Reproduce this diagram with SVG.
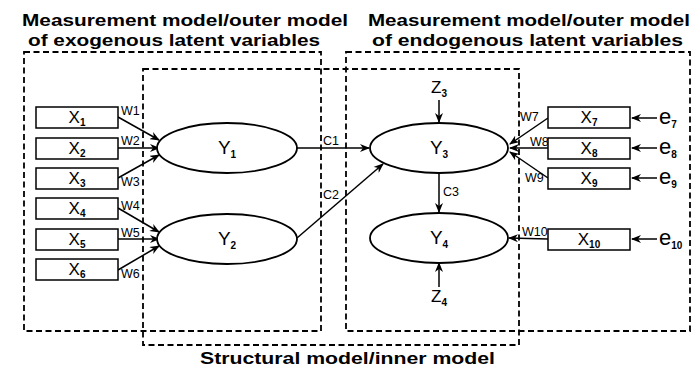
<svg xmlns="http://www.w3.org/2000/svg" width="694" height="367" viewBox="0 0 694 367">
<defs>
<style>
.title{font-family:"Liberation Sans",Arial,sans-serif;font-weight:bold;font-size:17px;fill:#000}
.box{fill:none;stroke:#000;stroke-width:1.8;stroke-dasharray:6,3.5}
.node rect{fill:#fff;stroke:#000;stroke-width:1.5}
.node ellipse{fill:#fff;stroke:#000;stroke-width:1.8}
.lbl{font-family:"Liberation Sans",Arial,sans-serif;font-size:17px;fill:#000}
.ylbl{font-family:"Liberation Sans",Arial,sans-serif;font-size:19px;fill:#000}
.sub{font-size:10px;font-weight:bold}
.w{font-family:"Liberation Sans",Arial,sans-serif;font-size:12.5px;fill:#000}
.e{font-family:"Liberation Sans",Arial,sans-serif;font-size:22px;fill:#000}
.conn line{stroke:#000;stroke-width:1.5;marker-end:url(#ah)}
</style>
<marker id="ah" markerUnits="userSpaceOnUse" markerWidth="10" markerHeight="8" refX="9" refY="4" orient="auto">
<path d="M0,0 L10,4 L0,8 L3,4 z" fill="#000"/>
</marker>
</defs>
<rect width="694" height="367" fill="#fff"/>

<g id="titles">
<text class="title" x="22" y="26" textLength="326" lengthAdjust="spacingAndGlyphs">Measurement model/outer model</text>
<text class="title" x="28" y="46" textLength="292" lengthAdjust="spacingAndGlyphs">of exogenous latent variables</text>
<text class="title" x="368" y="26" textLength="322" lengthAdjust="spacingAndGlyphs">Measurement model/outer model</text>
<text class="title" x="372" y="46" textLength="311" lengthAdjust="spacingAndGlyphs">of endogenous latent variables</text>
<text class="title" x="200" y="364" textLength="295" lengthAdjust="spacingAndGlyphs">Structural model/inner model</text>
</g>

<g id="regions">
<rect class="box" x="24" y="52" width="297" height="279"/>
<rect class="box" x="346" y="52" width="344" height="279"/>
<rect class="box" x="143" y="69" width="376" height="276"/>
</g>

<g id="connectors" class="conn">
<line x1="118" y1="117" x2="159" y2="140"/>
<line x1="118" y1="148" x2="159" y2="148"/>
<line x1="118" y1="178" x2="159" y2="155"/>
<line x1="118" y1="208" x2="159" y2="232"/>
<line x1="118" y1="239" x2="159" y2="239"/>
<line x1="118" y1="270" x2="159" y2="246"/>
<line x1="297" y1="148" x2="369" y2="148"/>
<line x1="297" y1="238" x2="383" y2="164"/>
<line x1="439" y1="173" x2="439" y2="212"/>
<line x1="439" y1="100" x2="439" y2="122"/>
<line x1="439" y1="287" x2="439" y2="263"/>
<line x1="548" y1="118" x2="510" y2="144"/>
<line x1="548" y1="148" x2="510" y2="148"/>
<line x1="548" y1="178" x2="510" y2="152"/>
<line x1="548" y1="239" x2="509" y2="238"/>
<line x1="657" y1="118" x2="632" y2="118"/>
<line x1="657" y1="148" x2="632" y2="148"/>
<line x1="657" y1="178" x2="632" y2="178"/>
<line x1="657" y1="239" x2="632" y2="239"/>
</g>

<g id="connector-labels">
<text class="w" x="121" y="115">W1</text>
<text class="w" x="121" y="145">W2</text>
<text class="w" x="121" y="186">W3</text>
<text class="w" x="121" y="210">W4</text>
<text class="w" x="121" y="237">W5</text>
<text class="w" x="121" y="278">W6</text>
<text class="w" x="520" y="121">W7</text>
<text class="w" x="530" y="146">W8</text>
<text class="w" x="525" y="182">W9</text>
<text class="w" x="522" y="236">W10</text>
<text class="w" x="323" y="145">C1</text>
<text class="w" x="323" y="199">C2</text>
<text class="w" x="443" y="196">C3</text>
</g>

<g id="X1" class="node"><rect x="36" y="107" width="82" height="21"/><text class="lbl" x="77" y="123" text-anchor="middle">X<tspan class="sub" dy="3">1</tspan></text></g>
<g id="X2" class="node"><rect x="36" y="138" width="82" height="21"/><text class="lbl" x="77" y="154" text-anchor="middle">X<tspan class="sub" dy="3">2</tspan></text></g>
<g id="X3" class="node"><rect x="36" y="168" width="82" height="21"/><text class="lbl" x="77" y="184" text-anchor="middle">X<tspan class="sub" dy="3">3</tspan></text></g>
<g id="X4" class="node"><rect x="36" y="198" width="82" height="21"/><text class="lbl" x="77" y="214" text-anchor="middle">X<tspan class="sub" dy="3">4</tspan></text></g>
<g id="X5" class="node"><rect x="36" y="229" width="82" height="21"/><text class="lbl" x="77" y="245" text-anchor="middle">X<tspan class="sub" dy="3">5</tspan></text></g>
<g id="X6" class="node"><rect x="36" y="259" width="82" height="21"/><text class="lbl" x="77" y="275" text-anchor="middle">X<tspan class="sub" dy="3">6</tspan></text></g>

<g id="Y1" class="node"><ellipse cx="227" cy="148" rx="70" ry="25"/><text class="ylbl" x="227" y="154" text-anchor="middle">Y<tspan class="sub" dy="4">1</tspan></text></g>
<g id="Y2" class="node"><ellipse cx="227" cy="239" rx="70" ry="25"/><text class="ylbl" x="227" y="245" text-anchor="middle">Y<tspan class="sub" dy="4">2</tspan></text></g>
<g id="Y3" class="node"><ellipse cx="439" cy="148" rx="69" ry="25"/><text class="ylbl" x="439" y="154" text-anchor="middle">Y<tspan class="sub" dy="4">3</tspan></text></g>
<g id="Y4" class="node"><ellipse cx="439" cy="238" rx="69" ry="25"/><text class="ylbl" x="439" y="244" text-anchor="middle">Y<tspan class="sub" dy="4">4</tspan></text></g>

<g id="Z3"><text class="lbl" x="439" y="93" text-anchor="middle">Z<tspan class="sub" dy="4">3</tspan></text></g>
<g id="Z4"><text class="lbl" x="439" y="302" text-anchor="middle">Z<tspan class="sub" dy="4">4</tspan></text></g>

<g id="X7" class="node"><rect x="548" y="107" width="82" height="21"/><text class="lbl" x="589" y="123" text-anchor="middle">X<tspan class="sub" dy="3">7</tspan></text></g>
<g id="X8" class="node"><rect x="548" y="138" width="82" height="21"/><text class="lbl" x="589" y="154" text-anchor="middle">X<tspan class="sub" dy="3">8</tspan></text></g>
<g id="X9" class="node"><rect x="548" y="168" width="82" height="21"/><text class="lbl" x="589" y="184" text-anchor="middle">X<tspan class="sub" dy="3">9</tspan></text></g>
<g id="X10" class="node"><rect x="548" y="229" width="82" height="21"/><text class="lbl" x="589" y="245" text-anchor="middle">X<tspan class="sub" dy="3">10</tspan></text></g>

<g id="e7"><text class="e" x="659" y="124">e<tspan class="sub" dy="4">7</tspan></text></g>
<g id="e8"><text class="e" x="659" y="154">e<tspan class="sub" dy="4">8</tspan></text></g>
<g id="e9"><text class="e" x="659" y="184">e<tspan class="sub" dy="4">9</tspan></text></g>
<g id="e10"><text class="e" x="659" y="245">e<tspan class="sub" dy="4">10</tspan></text></g>
</svg>
